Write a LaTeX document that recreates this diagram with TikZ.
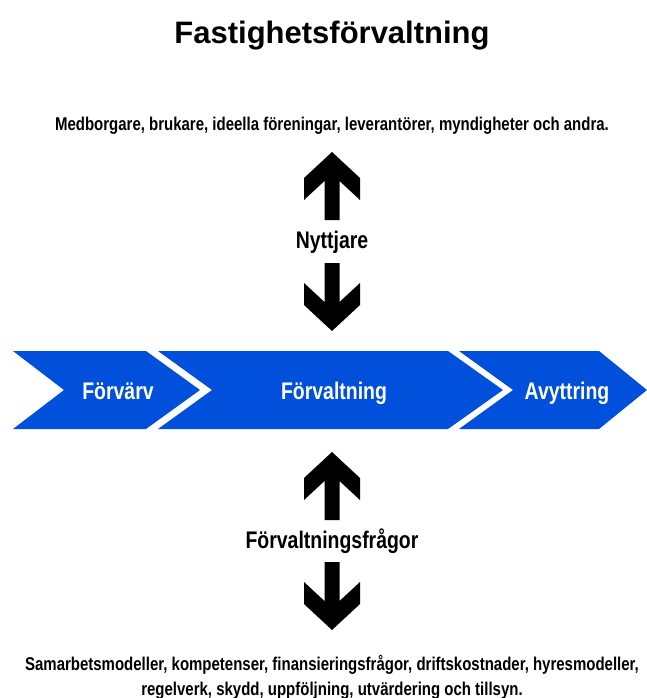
\documentclass[tikz,border=0pt]{standalone}
\usepackage{fontspec}
\setmainfont{Liberation Sans}
\newfontfamily\smalfont[FakeStretch=0.81]{Liberation Sans}
\definecolor{stegbla}{HTML}{0050DC}

\begin{document}
\begin{tikzpicture}[
    x=1pt, y=-1pt,
    % Textstilar
    rubrik/.style={font=\bfseries\fontsize{31}{36}\selectfont, inner sep=0pt, anchor=base},
    brodtext/.style={font=\smalfont\bfseries\fontsize{18.5}{20}\selectfont, inner sep=0pt, anchor=base},
    pilrubrik/.style={font=\smalfont\bfseries\fontsize{24}{26}\selectfont, inner sep=0pt, anchor=base},
    steg/.style={font=\smalfont\bfseries\fontsize{24}{26}\selectfont, text=white, inner sep=0pt, anchor=base},
    % Formstilar
    pil/.style={fill=black},
    chevron/.style={fill=stegbla}
]
    \useasboundingbox (0,0) rectangle (647,698);

    % --- RUBRIK OCH AKTÖRER ---
    \node[rubrik]    (titel)    at (332,44)  {Fastighetsförvaltning};
    \node[brodtext]  (aktorer)  at (332,130) {Medborgare, brukare, ideella föreningar, leverantörer, myndigheter och andra.};
    \node[pilrubrik] (nyttjare) at (332,248) {Nyttjare};

    % --- PROCESSKEDJAN (tre chevroner) ---
    \fill[chevron] (13,351) -- (146,351) -- (200,390) -- (146,429) -- (13,429) -- (64,390) -- cycle;
    \fill[chevron] (158,351) -- (448,351) -- (503,390) -- (448,429) -- (158,429) -- (212,390) -- cycle;
    \fill[chevron] (459,351) -- (599,351) -- (647,390) -- (599,429) -- (459,429) -- (513,390) -- cycle;

    \node[steg] (forvarv)     at (118,399) {Förvärv};
    \node[steg] (forvaltning) at (334,399) {Förvaltning};
    \node[steg] (avyttring)   at (567,399) {Avyttring};

    % --- PILAR (upp = 1, ned = -1) ---
    \foreach \ty/\s in {152/1, 331/-1, 452/1, 630/-1} {
        \fill[pil] (332,\ty) -- ++(28,26*\s) -- ++(0,22*\s) -- ++(-20.5,-19*\s)
            -- ++(0,39*\s) -- ++(-15,0) -- ++(0,-39*\s) -- ++(-20.5,19*\s)
            -- ++(0,-22*\s) -- cycle;
    }

    % --- FÖRVALTNINGSFRÅGOR ---
    \node[pilrubrik] (fragor) at (332,548) {Förvaltningsfrågor};
    \node[brodtext]  (rad1)   at (332,670) {Samarbetsmodeller, kompetenser, finansieringsfrågor, driftskostnader, hyresmodeller,};
    \node[brodtext]  (rad2)   at (332,695) {regelverk, skydd, uppföljning, utvärdering och tillsyn.};

\end{tikzpicture}
\end{document}
